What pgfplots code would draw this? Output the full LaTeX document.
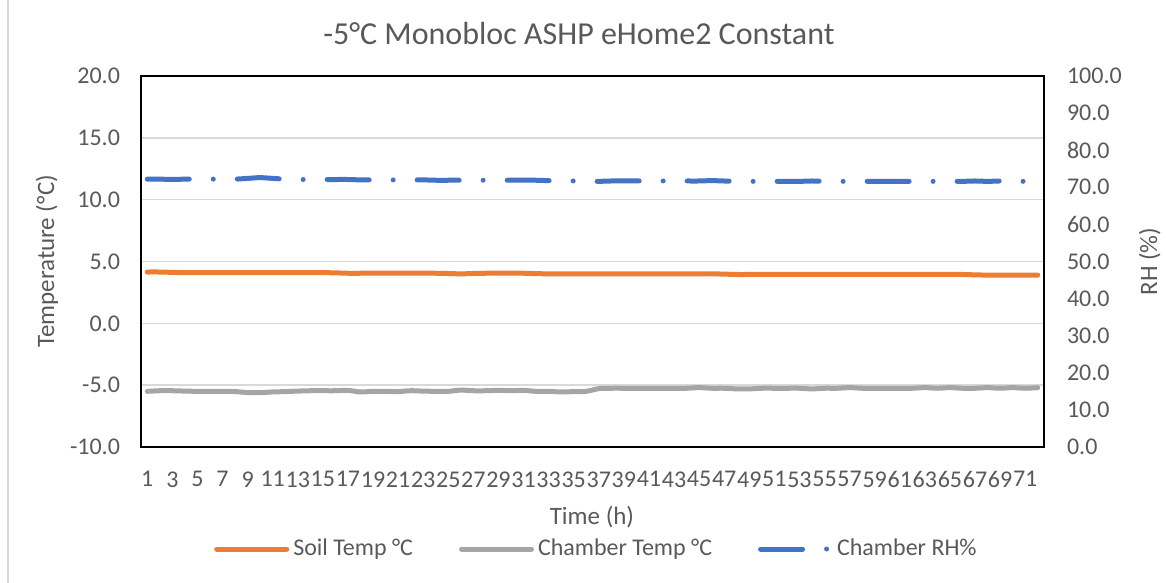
\documentclass[border=0pt]{standalone}
\usepackage{fontspec}
\setmainfont{Carlito}
\usepackage{pgfplots}
\usepackage{pgfplotstable}
\pgfplotsset{compat=1.18}

\definecolor{soilc}{HTML}{ED7D31}
\definecolor{chamc}{HTML}{A5A5A5}
\definecolor{rhc}{HTML}{4472C4}
\definecolor{txt}{HTML}{595959}
\definecolor{gridc}{HTML}{D9D9D9}

% hourly readings
\pgfplotstableread{
h soil chamber rh
1 4.15 -5.50 72.2
2 4.15 -5.45 72.2
3 4.12 -5.45 72.1
4 4.10 -5.48 72.2
5 4.10 -5.50 72.2
6 4.10 -5.50 72.2
7 4.10 -5.50 72.2
8 4.10 -5.52 72.2
9 4.10 -5.60 72.4
10 4.10 -5.60 72.6
11 4.10 -5.55 72.4
12 4.10 -5.52 72.2
13 4.10 -5.48 72.1
14 4.10 -5.45 72.1
15 4.10 -5.45 72.1
16 4.08 -5.45 72.1
17 4.05 -5.42 72.1
18 4.05 -5.55 72.0
19 4.05 -5.50 72.0
20 4.05 -5.50 72.0
21 4.05 -5.52 72.0
22 4.05 -5.45 72.0
23 4.05 -5.48 72.0
24 4.05 -5.50 71.9
25 4.03 -5.50 71.9
26 4.00 -5.40 71.9
27 4.03 -5.45 71.9
28 4.05 -5.45 71.9
29 4.05 -5.42 71.9
30 4.05 -5.45 71.9
31 4.05 -5.42 71.9
32 4.02 -5.50 71.9
33 4.00 -5.50 71.8
34 4.00 -5.55 71.8
35 4.00 -5.52 71.7
36 4.00 -5.50 71.6
37 4.00 -5.28 71.6
38 4.00 -5.25 71.7
39 4.00 -5.25 71.7
40 4.00 -5.25 71.7
41 4.00 -5.25 71.7
42 4.00 -5.25 71.7
43 4.00 -5.25 71.7
44 4.00 -5.25 71.7
45 4.00 -5.20 71.7
46 4.00 -5.25 71.8
47 3.98 -5.25 71.7
48 3.95 -5.30 71.6
49 3.95 -5.30 71.6
50 3.95 -5.25 71.6
51 3.95 -5.25 71.6
52 3.95 -5.25 71.6
53 3.95 -5.25 71.6
54 3.95 -5.30 71.7
55 3.95 -5.25 71.6
56 3.95 -5.25 71.6
57 3.95 -5.20 71.6
58 3.95 -5.25 71.6
59 3.95 -5.25 71.6
60 3.95 -5.25 71.6
61 3.95 -5.25 71.6
62 3.95 -5.25 71.6
63 3.95 -5.20 71.6
64 3.95 -5.25 71.6
65 3.95 -5.20 71.6
66 3.95 -5.25 71.6
67 3.92 -5.25 71.7
68 3.90 -5.20 71.6
69 3.90 -5.25 71.7
70 3.90 -5.20 71.7
71 3.90 -5.25 71.6
72 3.90 -5.20 71.6
}\datatable

\pgfplotsset{
  base/.style={
    at={(0,0)}, anchor=south west,
    scale only axis, width=451.5pt, height=185.5pt,
    xmin=0.5, xmax=72.5,
    major tick length=0pt,
    axis line style={black, line width=0.75pt},
    tick label style={font=\fontsize{12}{14}\selectfont, text=txt},
    /pgf/number format/assume math mode=true,
    label style={font=\fontsize{12.5}{15}\selectfont, text=txt},
  },
  soilline/.style={color=soilc, line width=2.5pt, line cap=round, line join=round},
  chamline/.style={color=chamc, line width=2.5pt, line cap=round, line join=round},
  rhline/.style={color=rhc, line width=2.5pt, line cap=round, line join=round,
    dash pattern=on 21pt off 12pt on 0pt off 12pt},
}

\begin{document}
\begin{tikzpicture}
\begin{axis}[
  base,
  ymin=-10, ymax=20,
  xtick={1,3,...,71},
  ytick={-10,-5,...,20},
  ymajorgrids,
  grid style={color=gridc, line width=0.75pt},
  yticklabel style={/pgf/number format/fixed, /pgf/number format/fixed zerofill,
    /pgf/number format/precision=1, anchor=east, xshift=-7pt},
  xticklabel style={anchor=north, yshift=-8.7pt},
  title={-5°C Monobloc ASHP eHome2 Constant},
  title style={at={(axis description cs:0.485,1.081)}, anchor=center,
    font=\fontsize{16}{19}\selectfont, text=txt},
  xlabel={Time (h)},
  xlabel style={at={(axis description cs:0.4994,-0.189)}, anchor=center},
  ylabel={Temperature (°C)},
  ylabel style={at={(axis description cs:-0.104,0.5)}, anchor=center},
]
\addplot[soilline, smooth] table[x=h, y=soil] {\datatable};
\addplot[chamline, smooth] table[x=h, y=chamber] {\datatable};
\end{axis}

\begin{axis}[
  base,
  axis y line*=right, axis x line=none,
  ymin=0, ymax=100,
  ytick={0,10,...,100},
  yticklabel style={/pgf/number format/fixed, /pgf/number format/fixed zerofill,
    /pgf/number format/precision=1, anchor=west, xshift=8pt},
  ylabel={RH (\%)},
  ylabel style={at={(axis description cs:1.117,0.5)}, anchor=center, rotate=0},
  legend columns=3,
  legend cell align=left,
  legend image code/.code={\draw[#1] (0pt,0pt) -- (35pt,0pt);},
  legend style={at={(axis description cs:0.5055,-0.275)}, anchor=center, draw=none,
    font=\fontsize{12}{14}\selectfont, text=txt,
    /tikz/every even column/.append style={column sep=21pt}},
]
\addlegendimage{soilline}
\addlegendentry{Soil Temp °C}
\addlegendimage{chamline}
\addlegendentry{Chamber Temp °C}
\addplot[rhline, smooth] table[x=h, y=rh] {\datatable};
\addlegendentry{Chamber RH\%}
\end{axis}

\draw[gridc, line width=0.75pt] (-66.5pt,-68pt) -- (-66.5pt,223.5pt);
\pgfresetboundingbox
\useasboundingbox (-70.5pt,-68pt) rectangle (512.5pt,223.5pt);
\end{tikzpicture}
\end{document}
